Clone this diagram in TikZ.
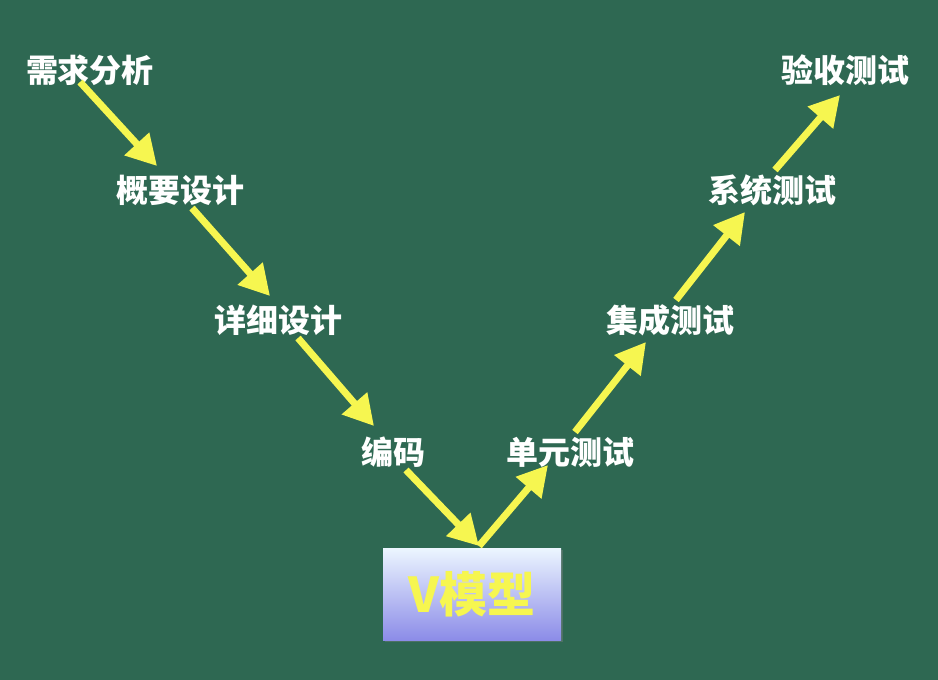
\documentclass[tikz,border=0pt]{standalone}
\usepackage{fontspec}
\newfontfamily\cjk{Noto Sans CJK SC}
\usetikzlibrary{arrows.meta,shadows}
\definecolor{board}{RGB}{46,104,82}
\definecolor{chalkyellow}{RGB}{246,246,80}
\definecolor{boxtop}{RGB}{236,246,255}
\definecolor{boxbottom}{RGB}{140,140,232}
\tikzset{
  lbl/.style={text=white,font=\cjk\bfseries\fontsize{32}{34}\selectfont,inner sep=1pt},
  flow/.style={draw=chalkyellow,line width=7pt,-{Triangle[length=30pt,width=32pt]}},
  titlebox/.style={minimum width=178pt,minimum height=92pt,top color=boxtop,bottom color=boxbottom,
    drop shadow={shadow xshift=2pt,shadow yshift=-2pt,opacity=0.4},
    text=chalkyellow,font=\cjk\bfseries\fontsize{48}{50}\selectfont}
}
\begin{document}
\begin{tikzpicture}[x=1pt,y=-1pt]
\fill[board] (0,0) rectangle (938,680);
\useasboundingbox (0,0) rectangle (938,680);
% left leg of the V
\node[lbl] (req) at (90,70) {需求分析};
\node[lbl] (hld) at (180,190) {概要设计};
\node[lbl] (dld) at (278,320) {详细设计};
\node[lbl] (code) at (393,452) {编码};
% right leg of the V
\node[lbl] (unit) at (570,452) {单元测试};
\node[lbl] (integ) at (670,320) {集成测试};
\node[lbl] (sys) at (772,190) {系统测试};
\node[lbl] (acc) at (845,70) {验收测试};
% bottom title box
\node[titlebox] (vm) at (472,594) {V模型};
% connector end points around the labels
\coordinate (reqOut)   at (80,82);
\coordinate (hldIn)    at (157,166);
\coordinate (hldOut)   at (192,208);
\coordinate (dldIn)    at (270,296);
\coordinate (dldOut)   at (298,338);
\coordinate (codeIn)   at (374,426);
\coordinate (codeOut)  at (406,470);
\coordinate (tip)      at (479,546);
\coordinate (unitIn)   at (548,465);
\coordinate (unitOut)  at (575,432);
\coordinate (integIn)  at (646,342);
\coordinate (integOut) at (676,300);
\coordinate (sysIn)    at (745,212);
\coordinate (sysOut)   at (775,170);
\coordinate (accIn)    at (840,95);
% connectors
\draw[flow] (reqOut) -- (hldIn);
\draw[flow] (hldOut) -- (dldIn);
\draw[flow] (dldOut) -- (codeIn);
\draw[flow] (codeOut) -- (tip);
\draw[flow] (tip) -- (unitIn);
\draw[flow] (unitOut) -- (integIn);
\draw[flow] (integOut) -- (sysIn);
\draw[flow] (sysOut) -- (accIn);
\end{tikzpicture}
\end{document}
